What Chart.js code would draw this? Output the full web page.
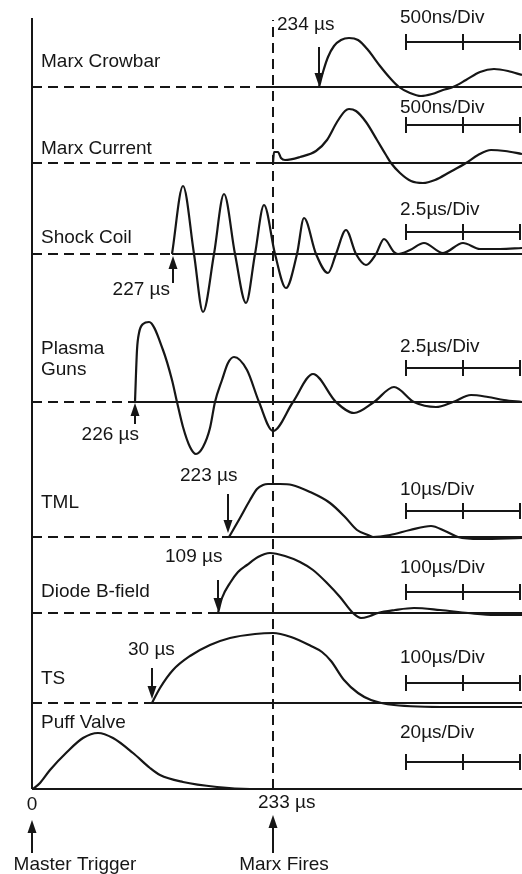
<!DOCTYPE html>
<html>
<head>
<meta charset="utf-8">
<script src="https://cdn.jsdelivr.net/npm/chart.js@4.4.1/dist/chart.umd.min.js"></script>
<style>
html, body { margin: 0; padding: 0; background: #fff; }
#wrap { width: 522px; height: 874px; position: relative; }
</style>
</head>
<body>
<div id="wrap"><canvas id="scope"></canvas></div>
<script>
// channels, top to bottom
var channels = ['Marx Crowbar', 'Marx Current', 'Shock Coil', 'Plasma\nGuns', 'TML', 'Diode B-field', 'TS', 'Puff Valve'];
var sweepLabels = ['500ns/Div', '500ns/Div', '2.5\u00b5s/Div', '2.5\u00b5s/Div', '10\u00b5s/Div', '100\u00b5s/Div', '100\u00b5s/Div', '20\u00b5s/Div'];
var startLabels = ['234 \u00b5s', '', '227 \u00b5s', '226 \u00b5s', '223 \u00b5s', '109 \u00b5s', '30 \u00b5s', ''];

// zero level of each trace on the shared vertical scale
var channelZero = [702, 626, 535, 387, 252, 176, 86, 0];
// where the dashed (not triggered yet) part of each zero line ends
var channelStart = [231, 232, 140, 101, 190, 176, 120, 0];
var marxFires = 241;   // 233 us
var sweepEnd = 490;
var topLevel = 771;

// traces: time position / amplitude above own zero line
var crowbarT = [287, 291, 296, 302, 309, 317, 326, 336, 348, 358, 367, 378, 389, 400, 411, 421, 434, 448, 462, 476, 490];
var crowbarV = [0, 15, 30, 41, 47, 49, 47, 37, 21, 9, 0, -6, -9, -7, -3, 0, 7, 15, 18, 16, 12];

var currentT = [241, 242, 246, 249, 253, 268, 284, 295, 305, 313, 317, 324, 334, 345, 354, 359, 368, 379, 391, 403, 418, 434, 446, 459, 473, 490];
var currentV = [0, 11, 11, 5, 3, 6, 12, 23, 41, 52, 54, 52, 41, 23, 8, 0, -10, -18, -20, -17, -9, 0, 8, 13, 12, 9];

var shockT = [140, 151, 162, 171, 182, 192, 203, 214, 223, 232, 243, 254, 265, 272, 284, 296, 304, 314, 324, 334, 344, 352, 362, 366, 378, 392, 411, 431, 448, 468, 490];
var shockV = [0, 68, 0, -58, 0, 60, 0, -49, 0, 49, 0, -34, 0, 36, 0, -19, 0, 24, 0, -11, 0, 15, 2, 0, 4, 11, 1, 11, 5, 5, 6];

var plasmaT = [103, 105, 107, 111, 117, 131, 140, 145, 151, 158, 164, 171, 178, 183, 190, 196, 202, 215, 227, 241, 261, 281, 304, 322, 342, 362, 382, 404, 421, 439, 456, 472, 490];
var plasmaV = [0, 52, 69, 78, 80, 52, 22, 0, -25, -45, -52, -45, -26, 0, 22, 39, 45, 32, 0, -29, 0, 28, 0, -11, 0, 15, 0, -5, 0, 7, 5, 2, 0];

var tmlT = [197, 208, 218, 225, 231, 236, 248, 260, 278, 298, 313, 325, 336, 341, 358, 378, 399, 413, 426, 448, 490];
var tmlV = [0, 19, 37, 48, 52, 53, 53, 52, 45, 34, 20, 7, 2, 0, 2, 7, 11, 6, 0, -2, -1];

var diodeT = [186, 190, 198, 206, 215, 226, 238, 253, 268, 281, 295, 308, 321, 329, 338, 346, 363, 382, 408, 436, 463, 490];
var diodeV = [0, 15, 30, 41, 48, 56, 60, 57, 51, 43, 30, 16, 0, -5, -3, 0, 3, 5, 3, 0, -2, -2];

var tsT = [120, 128, 141, 158, 178, 198, 223, 241, 259, 279, 290, 299, 312, 326, 339, 362, 418, 490];
var tsV = [0, 15, 33, 47, 58, 65, 69, 70, 66, 57, 51, 42, 23, 10, 3, -2, -4, -4];

var puffT = [1, 8, 18, 35, 51, 66, 81, 101, 118, 128, 151, 185, 218, 248, 490];
var puffV = [0, 6, 19, 37, 51, 56, 51, 36, 21, 14, 7, 2, 0, 0, 0];

var traceT = [crowbarT, currentT, shockT, plasmaT, tmlT, diodeT, tsT, puffT];
var traceV = [crowbarV, currentV, shockV, plasmaV, tmlV, diodeV, tsV, puffV];

var ink = '#161616';

function lineSet(points, dash, width) {
    return {
        data: points,
        borderColor: ink,
        borderWidth: width || 2,
        borderDash: dash || [],
        pointRadius: 0,
        tension: 0,
        fill: false
    };
}

var datasets = [];
channels.forEach(function(name, i) {
    var z = channelZero[i];
    if (channelStart[i] > 0) {
        datasets.push(lineSet([{x: 0, y: z}, {x: channelStart[i], y: z}], [10, 6]));
    }
    datasets.push(lineSet([{x: channelStart[i], y: z}, {x: sweepEnd, y: z}]));
    var trace = lineSet(traceT[i].map(function(t, k) { return {x: t, y: z + traceV[i][k]}; }), [], 2.2);
    trace.cubicInterpolationMode = 'monotone';
    trace.label = name;
    datasets.push(trace);
});
// master trigger axis and the Marx-fires marker
datasets.push(lineSet([{x: 0, y: 0}, {x: 0, y: topLevel}]));
datasets.push(lineSet([{x: marxFires, y: 0}, {x: marxFires, y: topLevel - 2}], [10, 6]));

function arrow(ctx, x, yFrom, yTo) {
    var dir = yTo > yFrom ? 1 : -1;
    ctx.lineWidth = 2;
    ctx.beginPath();
    ctx.moveTo(x, yFrom);
    ctx.lineTo(x, yTo - dir * 10);
    ctx.stroke();
    ctx.beginPath();
    ctx.moveTo(x, yTo);
    ctx.lineTo(x - 4.5, yTo - dir * 13);
    ctx.lineTo(x + 4.5, yTo - dir * 13);
    ctx.closePath();
    ctx.fill();
}

var annotate = {
    id: 'annotate',
    afterDatasetsDraw: function(chart) {
        var ctx = chart.ctx;
        ctx.save();
        ctx.fillStyle = ink;
        ctx.strokeStyle = ink;
        ctx.font = '19px "Liberation Sans", Arial, sans-serif';
        ctx.textBaseline = 'middle';

        // channel names
        var nameY = [62, 149, 238, 349, 503, 592, 679, 723];
        channels.forEach(function(name, i) {
            name.split('\n').forEach(function(part, j) {
                ctx.fillText(part, 41, nameY[i] + j * 21);
            });
        });

        // sweep speed and scale bars
        var sweepY = [18, 108, 210, 347, 490, 568, 658, 733];
        var barY = [42, 125, 232, 368, 511, 592, 683, 762];
        ctx.lineWidth = 2;
        sweepLabels.forEach(function(lbl, i) {
            ctx.fillText(lbl, 400, sweepY[i]);
            var y = barY[i];
            ctx.beginPath();
            ctx.moveTo(406, y); ctx.lineTo(520, y);
            [406, 463, 520].forEach(function(x) {
                ctx.moveTo(x, y - 8); ctx.lineTo(x, y + 8);
            });
            ctx.stroke();
        });

        // trigger times
        var labelPos = [[277, 25, 'left'], null, [170, 290, 'right'], [139, 435, 'right'], [180, 476, 'left'], [165, 557, 'left'], [128, 650, 'left'], null];
        startLabels.forEach(function(lbl, i) {
            if (!lbl) return;
            ctx.textAlign = labelPos[i][2];
            ctx.fillText(lbl, labelPos[i][0], labelPos[i][1]);
        });
        ctx.textAlign = 'left';

        arrow(ctx, 319, 47, 86);
        arrow(ctx, 173, 283, 256);
        arrow(ctx, 135, 424, 403);
        arrow(ctx, 228, 494, 533);
        arrow(ctx, 218, 580, 611);
        arrow(ctx, 152, 668, 699);
        arrow(ctx, 32, 853, 820);
        arrow(ctx, 273, 853, 815);

        ctx.textAlign = 'center';
        ctx.fillText('0', 32, 805);
        ctx.fillText('Master Trigger', 75, 865);
        ctx.fillText('Marx Fires', 284, 865);
        ctx.textAlign = 'left';
        ctx.fillText('233 \u00b5s', 258, 803);
        ctx.restore();
    }
};

new Chart(document.getElementById('scope'), {
    type: 'line',
    data: { datasets: datasets },
    options: {
        responsive: true,
        maintainAspectRatio: false,
        animation: false,
        layout: { padding: { left: 30, right: 0, top: 16, bottom: 83 } },
        scales: {
            x: { type: 'linear', min: -2, max: 490, display: false },
            y: { type: 'linear', min: -2, max: 773, display: false }
        },
        plugins: {
            legend: { display: false },
            tooltip: { enabled: false }
        }
    },
    plugins: [annotate]
});
</script>
</body>
</html>
